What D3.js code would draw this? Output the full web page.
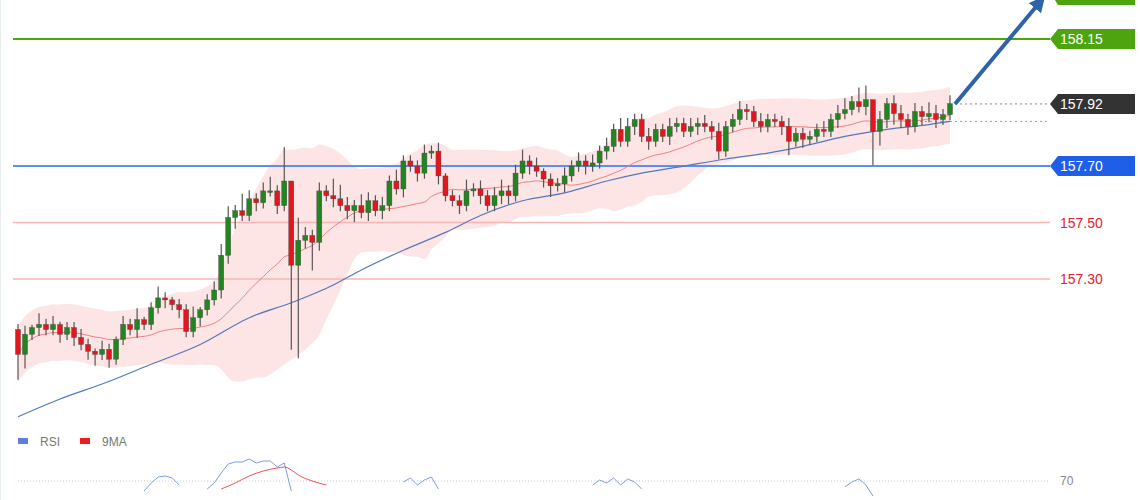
<!DOCTYPE html>
<html><head><meta charset="utf-8">
<script src="https://cdn.jsdelivr.net/npm/d3@7"></script>
<style>body{margin:0;background:#fff}svg{display:block;font-family:"Liberation Sans",Arial,sans-serif}</style>
</head><body><div id="app"></div>
<script>
// closes (price), open = previous close
const closes = [157.033,157.104,157.128,157.139,157.121,157.139,157.104,157.128,157.093,157.068,
157.044,157.033,157.051,157.016,157.086,157.139,157.121,157.156,157.139,157.198,
157.233,157.226,157.209,157.191,157.114,157.163,157.191,157.226,157.261,157.384,
157.518,157.542,157.525,157.584,157.570,157.612,157.612,157.560,157.647,157.349,
157.437,157.454,157.430,157.612,157.595,157.584,157.560,157.542,157.560,157.535,
157.577,157.542,157.560,157.647,157.619,157.718,157.700,157.675,157.746,157.753,
157.665,157.595,157.577,157.560,157.612,157.619,157.595,157.560,157.595,157.612,
157.595,157.675,157.718,157.700,157.682,157.654,157.630,157.637,157.665,157.700,
157.718,157.700,157.711,157.753,157.770,157.830,157.788,157.840,157.865,157.805,
157.788,157.830,157.805,157.840,157.851,157.823,157.840,157.851,157.840,157.823,
157.753,157.840,157.865,157.900,157.893,157.858,157.840,157.865,157.858,157.840,
157.788,157.816,157.795,157.805,157.830,157.823,157.865,157.886,157.900,157.928,
157.910,157.935,157.823,157.865,157.921,157.886,157.865,157.840,157.893,157.875,
157.886,157.865,157.882,157.921];
const firstOpen = 157.121;
// wick extensions in pips beyond the body
const wickUp = [2,3,1,4,2,3,1,2,2,3, 2,1,3,2,1,3,2,4,1,2, 4,2,1,2,2,4,1,2,3,4, 4,2,6,3,2,3,5,2,12,0,
8,3,2,3,2,6,5,3,2,4, 3,2,3,2,4,2,2,2,3,2, 3,1,2,2,4,2,3,2,3,4, 2,3,4,2,3,1,2,2,3,2,
3,2,3,2,3,2,4,3,2,2, 3,2,2,3,2,2,3,2,3,2, 3,2,2,3,2,2,3,2,2,2, 3,2,2,2,2,3,2,3,4,2,
5,5,0,3,2,3,3,2,3,2, 4,3,2,3];
const wickDn = [9,5,2,3,2,2,3,2,3,2, 3,4,2,3,2,2,2,3,2,2, 2,3,2,3,2,2,3,2,2,3, 3,4,2,2,3,2,2,3,2,30,
33,3,10,3,2,3,2,3,4,2, 3,2,3,2,2,3,2,3,2,2, 3,2,2,3,2,2,3,2,2,3, 3,2,2,3,2,3,4,2,3,2,
2,3,2,2,3,2,2,2,3,2, 3,2,2,3,2,2,2,3,2,3, 3,2,2,2,3,2,2,2,2,3, 5,2,3,2,2,2,2,3,2,2,
2,3,12,5,3,4,3,3,2,3, 2,3,2,2];
// long moving average
const maLongPx = [[0,156.812],[6,156.875],[12,156.928],[19,156.998],[26,157.068],[33,157.163],[39,157.216],
[45,157.279],[49,157.332],[55,157.402],[61,157.465],[66,157.525],[72,157.577],[78,157.605],[84,157.647],
[89,157.675],[95,157.700],[101,157.725],[107,157.746],[112,157.770],[118,157.805],[124,157.830],[130,157.847],[133,157.858]];
// RSI peaks above 70: [candle index, value]
const rsiPts = [[18,60],[19,68],[20,74],[21,75],[22,73],[23,66],[27,62],[28,68],[29,78],[30,87],[31,89],[32,89],[33,92],[34,88],[35,90],[36,90],[37,84],[38,88],[39,60],[55,69],[56,73],[57,66],[58,71],[59,74],[60,62],
[82,66],[83,71],[84,68],[85,73],[86,66],[87,72],[88,69],[89,62],[118,64],[119,69],[120,72],[121,66],[122,55]];
const rsiMaPts = [[29,62],[31,68],[33,75],[35,80],[37,83],[38,84],[39,81],[40,76],[42,70],[44,66]];
const levels = [
  {v:158.15, line:"#4da40e", tag:"#4da40e", fg:"#fff"},
  {v:157.92, line:null, tag:"#333", fg:"#fff"},
  {v:157.70, line:"#5a8ff0", tag:"#1f5fe8", fg:"#fff"},
  {v:157.50, line:"#f7b5b5", tag:null, fg:"#e8202a"},
  {v:157.30, line:"#f7b5b5", tag:null, fg:"#e8202a"}
];

const W=1140,H=500;
const svg=d3.select("#app").append("svg").attr("width",W).attr("height",H);
const x=d3.scaleLinear().domain([0,closes.length-1]).range([18,950]);
const y=d3.scaleLinear().domain([157.30,158.15]).range([279,39]);

const candles=closes.map((c,i)=>{
  const o=i?closes[i-1]:firstOpen;
  return {i,o,c,h:Math.max(o,c)+wickUp[i]/100,l:Math.min(o,c)-wickDn[i]/100};
});

// 20-period bands
const mid=[],up=[],lo=[];
closes.forEach((c,i)=>{
  const s=closes.slice(Math.max(0,i-19),i+1);
  const m=d3.mean(s), sd=Math.max(d3.deviation(s)||0,0.05);
  mid.push(m);up.push(m+2*sd);lo.push(m-2*sd);
});
svg.append("path").datum(closes.map((c,i)=>i))
  .attr("d",d3.area().curve(d3.curveMonotoneX).x(i=>x(i)).y0(i=>y(lo[i])).y1(i=>y(up[i])))
  .attr("fill","#fde0e0").attr("opacity",0.85);

svg.append("line").attr("x1",0.5).attr("x2",0.5).attr("y1",0).attr("y2",H).attr("stroke","#e6eef0");

levels.forEach(L=>{
  const yy=y(L.v);
  if(L.line) svg.append("line").attr("x1",13).attr("x2",1050).attr("y1",yy).attr("y2",yy)
    .attr("stroke",L.line).attr("stroke-width",L.v>=157.7?2:1.5);
  if(L.tag){
    svg.append("path").attr("d",`M1050,${yy}L1058,${yy-10}H1135V${yy+10}H1058Z`).attr("fill",L.tag);
  }
  svg.append("text").attr("x",1060).attr("y",yy+5).attr("fill",L.fg).attr("font-size",14).text(L.v.toFixed(2));
});
// hidden top target tag
svg.append("path").attr("d","M1050,-8L1058,-18H1135V5H1058Z").attr("fill","#4da40e");

svg.append("line").attr("x1",955).attr("x2",1050).attr("y1",y(157.92)).attr("y2",y(157.92))
  .attr("stroke","#888").attr("stroke-dasharray","2,3");
const last=maLongPx[maLongPx.length-1];
svg.append("line").attr("x1",920).attr("x2",1050).attr("y1",y(last[1])).attr("y2",y(last[1]))
  .attr("stroke","#8aa0c8").attr("stroke-dasharray","2,3");

svg.append("path").datum(mid).attr("fill","none").attr("stroke","#f08080").attr("stroke-width",1)
  .attr("d",d3.line().curve(d3.curveMonotoneX).x((d,i)=>x(i)).y(d=>y(d)));
svg.append("path").datum(maLongPx).attr("fill","none").attr("stroke","#5577bb").attr("stroke-width",1.2)
  .attr("d",d3.line().curve(d3.curveMonotoneX).x(d=>x(d[0])).y(d=>y(d[1])));

const g=svg.selectAll(".c").data(candles).enter().append("g");
g.append("line").attr("x1",d=>x(d.i)).attr("x2",d=>x(d.i)).attr("y1",d=>y(d.h)).attr("y2",d=>y(d.l))
  .attr("stroke","#555").attr("stroke-width",1.2);
g.append("rect").attr("x",d=>x(d.i)-2.5).attr("width",5)
  .attr("y",d=>y(Math.max(d.o,d.c))).attr("height",d=>Math.max(1.5,Math.abs(y(d.o)-y(d.c))))
  .attr("fill",d=>d.c>=d.o?"#23851f":"#e3161d").attr("stroke","#444").attr("stroke-width",0.4);

// arrow
const ax0=955,ay0=y(157.92),ax1=1040,ay1=2;
svg.append("defs").append("marker").attr("id","ah").attr("viewBox","0 0 10 10").attr("refX",5).attr("refY",5)
  .attr("markerWidth",4).attr("markerHeight",4).attr("orient","auto")
  .append("path").attr("d","M0,0L10,5L0,10Z").attr("fill","#2d64a8");
svg.append("line").attr("x1",ax0).attr("y1",ay0).attr("x2",ax1).attr("y2",ay1)
  .attr("stroke","#2d64a8").attr("stroke-width",4).attr("marker-end","url(#ah)");

// RSI panel (only the part above ~65 is visible)
const ry=d3.scaleLinear().domain([70,100]).range([481,451]);
svg.append("clipPath").attr("id","rc").append("rect").attr("x",0).attr("y",430).attr("width",W).attr("height",70);
svg.append("line").attr("x1",18).attr("x2",1048).attr("y1",ry(70)).attr("y2",ry(70))
  .attr("stroke","#ccc").attr("stroke-dasharray","1,2");
svg.append("text").attr("x",1060).attr("y",485).attr("font-size",12).attr("fill","#888").text("70");
const rl=d3.line().x(d=>x(d[0])).y(d=>ry(d[1]));
// split into segments where indices jump
const segs=[];rsiPts.forEach((p,k)=>{if(!k||p[0]-rsiPts[k-1][0]>1)segs.push([]);segs[segs.length-1].push(p);});
segs.forEach(s=>svg.append("path").datum(s).attr("clip-path","url(#rc)").attr("fill","none").attr("stroke","#7b9be8").attr("d",rl));
svg.append("path").datum(rsiMaPts).attr("clip-path","url(#rc)").attr("fill","none").attr("stroke","#f05050")
  .attr("d",rl.curve(d3.curveMonotoneX));
[["RSI","#5b80e0",18],["9MA","#ee1c1c",80]].forEach(([t,c,lx])=>{
  svg.append("rect").attr("x",lx).attr("y",438).attr("width",10).attr("height",6).attr("fill",c);
  svg.append("text").attr("x",lx+22).attr("y",446).attr("font-size",12).attr("fill","#777").text(t);
});
</script></body></html>
